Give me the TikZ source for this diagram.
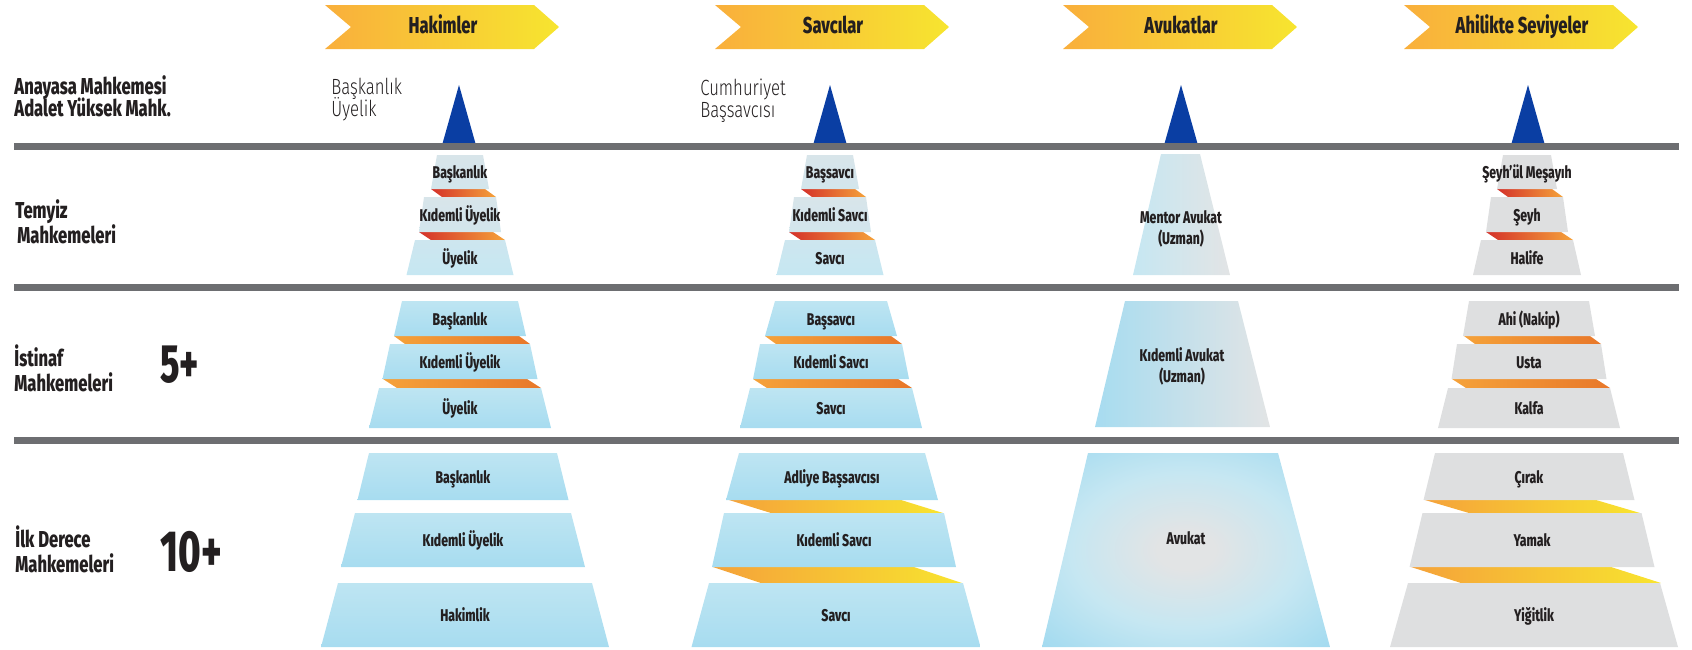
\documentclass[tikz,border=0pt]{standalone}
\usepackage{fontspec}
\setmainfont{Fira Sans}[FakeStretch=0.72, BoldFont={Fira Sans ExtraBold}]
\newfontfamily\thinfont{Fira Sans Light}[FakeStretch=0.76]
\newfontfamily\numfont{Fira Sans}[FakeStretch=0.66, BoldFont={Fira Sans ExtraBold}]
\lineskiplimit=-20pt

\definecolor{ink}{HTML}{231F20}
\definecolor{barGray}{HTML}{6D6E71}
\definecolor{peakBlue}{HTML}{0A3EA3}
\definecolor{chevOrange}{HTML}{F9AF3C}
\definecolor{chevYellow}{HTML}{F7E52F}
\definecolor{tierBlue}{HTML}{A7DCF0}
\definecolor{tierBlueLight}{HTML}{BEE5F2}
\definecolor{tierPale}{HTML}{D8E5EA}
\definecolor{tierSky}{HTML}{C6E7F2}
\definecolor{tierGray}{HTML}{DEDFE0}
\definecolor{avGray}{HTML}{E2E4E5}
\definecolor{avBlue}{HTML}{8DD3EE}
\definecolor{bandRed}{HTML}{D4312A}
\definecolor{bandOrange}{HTML}{F5A23A}
\definecolor{bandDeep}{HTML}{E8782A}
\definecolor{bandYellow}{HTML}{F8E42F}

\pgfdeclareradialshading{avglow}{\pgfpoint{0bp}{0bp}}{%
  color(0bp)=(avGray); color(5bp)=(avGray); color(20bp)=(tierSky);
  color(33bp)=(tierBlue); color(50bp)=(avBlue)}

\tikzset{
  heading/.style={font=\bfseries\fontsize{11.5}{12}\selectfont, text=ink},
  courtlabel/.style={font=\bfseries\fontsize{11.5}{12.3}\selectfont, text=ink,
    align=left, anchor=base west, inner sep=0pt},
  toplabel/.style={font=\thinfont\fontsize{11}{10.6}\selectfont, text=ink,
    align=left, anchor=base west, inner sep=0pt},
  count/.style={font=\numfont\bfseries\fontsize{27}{27}\selectfont, text=ink,
    anchor=base west, inner sep=0pt},
  ranktext/.style={font=\bfseries\fontsize{8.5}{10.5}\selectfont, text=ink,
    align=center, text height=1.5ex, text depth=.25ex, inner sep=0pt},
  chevfill/.style={left color=chevOrange, right color=chevYellow},
  peak/.style={fill=peakBlue},
  bar/.style={fill=barGray},
  judge/.style={top color=tierBlueLight, bottom color=tierBlue},
  upper/.style={top color=tierPale, bottom color=tierPale!70!tierSky},
  uppersky/.style={top color=tierSky!60!tierPale, bottom color=tierSky},
  guild/.style={fill=tierGray},
  redband/.style={left color=bandRed, right color=bandOrange},
  orangeband/.style={left color=bandOrange, middle color=bandOrange, right color=bandDeep},
  yellowband/.style={left color=bandOrange, right color=bandYellow},
}

% rank box: name, cx, ytop, ybot, half top, half bottom, fill, text
\newcommand{\rank}[8]{%
  \path[#7] ({#2-#5},#3) -- ({#2+#5},#3) -- ({#2+#6},#4) -- ({#2-#6},#4) -- cycle;
  \node[ranktext] (#1) at (#2,{(#3+#4)/2}) {#8};}
% band between two ranks: x left, x right, ytop, ybot, shift, fill
\newcommand{\band}[6]{%
  \path[#6] (#1,#3) -- ({#2-#5},#3) -- (#2,#4) -- ({#1+#5},#4) -- cycle;}
% heading arrow: name, left x, text
\newcommand{\chevron}[3]{%
  \path[chevfill] (#2,5) -- ({#2+209},5) -- ({#2+234},27) -- ({#2+209},49)
    -- (#2,49) -- ({#2+26},27) -- cycle;
  \node[heading, anchor=base] (#1) at ({#2+118},33) {#3};}

\begin{document}
\begin{tikzpicture}[x=0.5pt, y=-0.5pt]
\useasboundingbox (0,0) rectangle (1692,649);

% column headings
\chevron{hakim}{325}{Hakimler}
\chevron{savci}{715}{Savcılar}
\chevron{avukat}{1063}{Avukatlar}
\chevron{ahi}{1404}{Ahilikte Seviyeler}

% peaks and separators
\foreach \x in {459,830,1181,1528}
  \fill[peak] (\x,85) -- ({\x+16.5},143.5) -- ({\x-16.5},143.5) -- cycle;
\foreach \y in {143,284,437}
  \fill[bar] (14,\y) rectangle (1679,{\y+7});

% row labels (anchor is the last line's baseline)
\node[courtlabel, font=\bfseries\fontsize{11.5}{10.8}\selectfont] (anayasa) at (14,116) {Anayasa Mahkemesi\\Adalet Yüksek Mahk.};
\node[courtlabel] (temyiz) at (15,243) {Temyiz\\\hspace*{1pt}Mahkemeleri};
\node[courtlabel] (istinaf) at (14,391) {İstinaf\\Mahkemeleri};
\node[courtlabel] (ilk) at (15,572) {İlk Derece\\Mahkemeleri};
\node[count] (bes) at (160,382) {5+};
\node[count, font=\numfont\bfseries\fontsize{29}{29}\selectfont] (on) at (160,571) {10+};

% top level
\node[toplabel] (hakimtop) at (331,116) {Başkanlık\\Üyelik};
\node[toplabel] (savcitop) at (700,117) {Cumhuriyet\\Başsavcısı};

% Temyiz
\band{431}{496}{189}{197}{11}{redband}
\band{419}{505}{232}{240}{12}{redband}
\rank{tH1}{460}{155}{189}{23}{29}{upper}{Başkanlık}
\rank{tH2}{460}{197}{232}{36}{41}{upper}{Kıdemli Üyelik}
\rank{tH3}{460}{240}{275}{45}{53.5}{uppersky}{Üyelik}
\band{801}{866}{189}{197}{11}{redband}
\band{789}{875}{232}{240}{12}{redband}
\rank{tS1}{830}{155}{189}{23}{29}{upper}{Başsavcı}
\rank{tS2}{830}{197}{232}{36}{41}{upper}{Kıdemli Savcı}
\rank{tS3}{830}{240}{275}{45}{53.5}{uppersky}{Savcı}
\path[left color=tierSky, right color=avGray] (1161,154) -- (1200,154) -- (1230,275) -- (1133,275) -- cycle;
\node[ranktext] (tA) at (1181,238) {Mentor Avukat\\(Uzman)};
\band{1497}{1563}{189}{197}{11}{redband}
\band{1486}{1573}{232}{240}{12}{redband}
\rank{tG1}{1527}{155}{189}{24}{30}{guild}{Şeyh'ül Meşayıh}
\rank{tG2}{1527}{197}{232}{36}{41}{guild}{Şeyh}
\rank{tG3}{1527}{240}{275}{46}{54}{guild}{Halife}

% Istinaf
\band{394}{530}{336}{344}{11}{orangeband}
\band{383}{541}{379}{388}{14}{orangeband}
\rank{iH1}{460}{301}{336}{58}{66}{judge}{Başkanlık}
\rank{iH2}{460}{344}{379}{70}{77.5}{judge}{Kıdemli Üyelik}
\rank{iH3}{460}{388}{428}{81}{91}{judge}{Üyelik}
\band{765}{902}{336}{344}{11}{orangeband}
\band{753}{912}{379}{388}{14}{orangeband}
\rank{iS1}{831}{301}{336}{56}{66}{judge}{Başsavcı}
\rank{iS2}{831}{344}{379}{71}{78}{judge}{Kıdemli Savcı}
\rank{iS3}{831}{388}{428}{81}{91}{judge}{Savcı}
\path[left color=tierBlue, middle color=tierSky!45!avGray, right color=avGray] (1125,301) -- (1238,301) -- (1270,427) -- (1095,427) -- cycle;
\node[ranktext] (iA) at (1182,376) {Kıdemli Avukat\\(Uzman)};
\band{1464}{1601}{336}{344}{11}{orangeband}
\band{1452}{1610}{379}{388}{14}{orangeband}
\rank{iG1}{1529}{301}{336}{60}{66}{guild}{Ahi (Nakip)}
\rank{iG2}{1529}{344}{379}{72}{77.5}{guild}{Usta}
\rank{iG3}{1529}{388}{428}{81}{91}{guild}{Kalfa}

% Ilk derece
\rank{lH1}{463}{453}{500}{94}{105.5}{judge}{Başkanlık}
\rank{lH2}{463}{513}{567}{108}{122}{judge}{Kıdemli Üyelik}
\rank{lH3}{465}{583}{647}{127}{144}{judge}{Hakimlik}
\band{729}{943}{500}{513}{42}{yellowband}
\band{713}{962}{567}{583}{48}{yellowband}
\rank{lS1}{832}{453}{500}{93}{106}{judge}{Adliye Başsavcısı}
\rank{lS2}{834}{513}{567}{110}{122}{judge}{Kıdemli Savcı}
\rank{lS3}{836}{583}{647}{127}{144.5}{judge}{Savcı}
\path[shading=avglow] (1088,453) -- (1278,453) -- (1330,647) -- (1042,647) -- cycle;
\node[ranktext] (lA) at (1186,538) {Avukat};
\band{1425}{1640}{500}{513}{44}{yellowband}
\band{1411}{1661}{567}{583}{50}{yellowband}
\rank{lG1}{1529}{453}{500}{94}{105.5}{guild}{Çırak}
\rank{lG2}{1532}{513}{567}{109.5}{122.5}{guild}{Yamak}
\rank{lG3}{1534}{583}{647}{126}{144}{guild}{Yiğitlik}
\end{tikzpicture}
\end{document}
